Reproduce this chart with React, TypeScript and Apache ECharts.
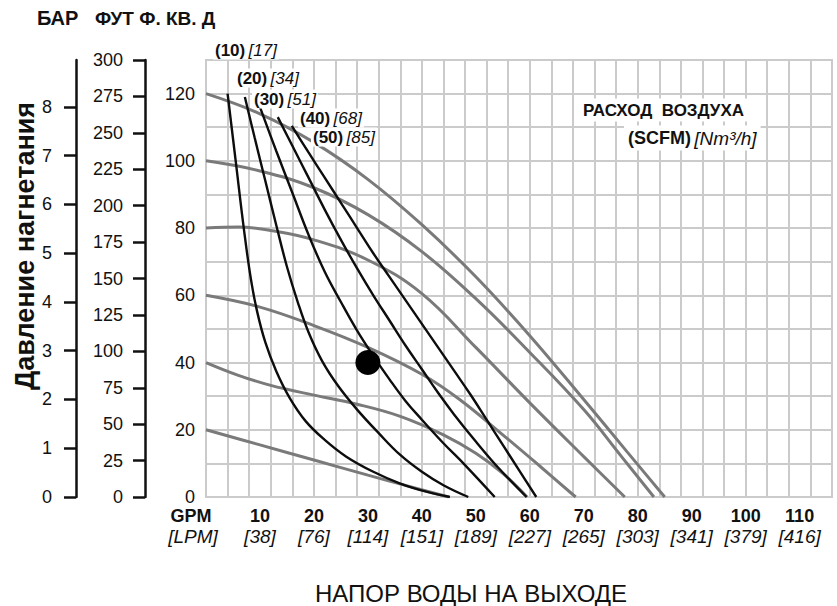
import React, { useEffect, useRef } from "react";
import * as echarts from "echarts";

// ---------- data ----------
const psiTicks = [0, 20, 40, 60, 80, 100, 120];
const barTicks = [0, 1, 2, 3, 4, 5, 6, 7, 8];
const feetTicks = [0, 25, 50, 75, 100, 125, 150, 175, 200, 225, 250, 275, 300];
const gpmTicks = [10, 20, 30, 40, 50, 60, 70, 80, 90, 100, 110];
const lpmTicks = [38, 76, 114, 151, 189, 227, 265, 303, 341, 379, 416];

// discharge head curves at constant air inlet pressure (psi) : [GPM, psi]
const pressure120 = [[0, 120], [10, 114], [20, 105.5], [30, 94.5], [40, 81], [50, 65.5], [60, 48], [70, 29], [78, 13.5], [85, 0]];
const pressure100 = [[0, 100], [10, 97], [20, 92], [30, 84], [40, 73], [50, 59], [60, 43], [70, 26], [77, 12], [83, 0]];
const pressure80 = [[0, 80], [6, 80.3], [12, 79.3], [20, 76.5], [30, 70.5], [40, 60.5], [50, 44.5], [60, 28], [70, 12], [77.6, 0]];
const pressure60 = [[0, 60], [10, 56.5], [20, 51], [30, 44.5], [40, 36.5], [47, 29], [55, 18.5], [62, 9], [68.5, 0]];
const pressure40 = [[0, 40], [6, 36.2], [12, 33.2], [20, 30.3], [28, 27.6], [36, 24], [44, 18.5], [50, 13], [55, 7], [59.5, 0]];
const pressure20 = [[0, 20], [10, 15.5], [20, 11], [30, 6.5], [38, 3], [45, 0]];

// air consumption curves (SCFM) : [GPM, psi]
const scfm10 = [[4, 120], [5.5, 100], [7, 80], [8.3, 65], [9.5, 55], [11, 46], [13, 37.5], [15.5, 29.5], [18.5, 22.5], [22, 17], [26, 12], [31, 7.5], [36, 4], [41, 1.5], [45.2, 0]];
const scfm20 = [[7.2, 119], [9, 107], [11, 94], [13, 81], [15, 68.5], [17, 58], [19, 49], [21.5, 40.5], [24.5, 33], [28, 26], [32, 19], [36, 12.5], [40, 7.5], [44, 3.5], [48.6, 0]];
const scfm30 = [[10, 116], [13, 103], [16, 90.5], [19, 78], [22, 67], [25, 58], [28, 49.5], [31, 42], [34, 35], [37, 28.5], [40, 23], [44, 16], [48, 9.5], [53.5, 0]];
const scfm40 = [[13.3, 113], [16, 104.5], [19, 95], [22, 85.5], [25, 76.5], [28, 68], [31, 60], [34, 52.5], [37, 45], [40, 38], [43, 31], [46, 24.5], [50, 16.5], [54, 9], [59.4, 0]];
const scfm50 = [[15.9, 110.4], [19, 102.5], [22, 95], [25, 87.5], [28, 80], [31, 72.5], [34, 65.5], [37, 58.5], [40, 51.5], [43, 44.5], [46, 37.5], [49, 30.5], [52, 23], [55, 15.5], [58, 8], [61.2, 0]];

const scfmLabels = ["10", "20", "30", "40", "50"];
const nm3hLabels = ["17", "34", "51", "68", "85"];
const operatingPoint = [[30, 40]];

const FONT = "'Liberation Sans', Arial, Helvetica, sans-serif";

export default function App() {
  const ref = useRef<HTMLDivElement>(null);

  useEffect(() => {
    const chart = echarts.init(ref.current!, null, { renderer: "svg" });
    const gray = "#7a7a7a";
    const black = "#0d0d0d";
    const gridColor = "#cbcbcb";
    const ink = "#111";

    const grayCurves = [pressure120, pressure100, pressure80, pressure60, pressure40, pressure20];
    const blackCurves = [scfm10, scfm20, scfm30, scfm40, scfm50];

    const series: any[] = [
      ...grayCurves.map((d, i) => ({
        type: "line",
        name: "p" + i,
        data: d,
        smooth: 0.4,
        symbol: "none",
        showSymbol: false,
        silent: true,
        z: 2,
        lineStyle: { color: gray, width: 3 },
      })),
      ...blackCurves.map((d, i) => ({
        type: "line",
        name: "scfm" + scfmLabels[i],
        data: d,
        smooth: 0.4,
        symbol: "none",
        showSymbol: false,
        silent: true,
        z: 3,
        lineStyle: { color: black, width: 2.4 },
      })),
      {
        type: "scatter",
        data: operatingPoint,
        symbolSize: 25,
        itemStyle: { color: "#000", opacity: 1 },
        z: 4,
        silent: true,
      },
    ];

    const curveLabelPos = [
      [213, 50],
      [235, 78],
      [252, 99],
      [298, 118],
      [311, 137],
    ];

    const richLabel = {
      b: { fontFamily: FONT, fontWeight: "bold", fontSize: 17, fill: ink, color: ink },
      i: { fontFamily: FONT, fontStyle: "italic", fontSize: 17, fill: ink, color: ink },
    };
    const richLegend = {
      b: { fontFamily: FONT, fontWeight: "bold", fontSize: 18, fill: ink, color: ink },
      i: { fontFamily: FONT, fontStyle: "italic", fontSize: 19, fill: ink, color: ink },
    };

    const graphic: any[] = [
      {
        type: "text",
        x: 37,
        y: 18,
        style: { text: "БАР", fontFamily: FONT, fontWeight: "bold", fontSize: 20, fill: ink, align: "left", verticalAlign: "middle" },
      },
      {
        type: "text",
        x: 95,
        y: 18,
        style: { text: "ФУТ Ф. КВ. Д", fontFamily: FONT, fontWeight: "bold", fontSize: 19, fill: ink, align: "left", verticalAlign: "middle" },
      },
      {
        type: "text",
        x: 25,
        y: 246,
        rotation: Math.PI / 2,
        style: { text: "Давление нагнетания", fontFamily: FONT, fontWeight: "bold", fontSize: 27, fill: ink, align: "center", verticalAlign: "middle" },
      },
      {
        type: "text",
        x: 471,
        y: 593,
        style: { text: "НАПОР ВОДЫ НА ВЫХОДЕ", fontFamily: FONT, fontSize: 24, fill: ink, align: "center", verticalAlign: "middle" },
      },
      {
        type: "text",
        x: 191,
        y: 516,
        style: { text: "GPM", fontFamily: FONT, fontWeight: "bold", fontSize: 18, fill: ink, align: "center", verticalAlign: "middle" },
      },
      {
        type: "text",
        x: 193,
        y: 536,
        style: { text: "[LPM]", fontFamily: FONT, fontStyle: "italic", fontSize: 19, fill: ink, align: "center", verticalAlign: "middle" },
      },
      {
        type: "text",
        x: 579,
        y: 110,
        z: 10,
        style: {
          text: "РАСХОД  ВОЗДУХА",
          fontFamily: FONT,
          fontWeight: "bold",
          fontSize: 17,
          fill: ink,
          align: "left",
          verticalAlign: "middle",
          backgroundColor: "#fff",
          padding: [3, 4],
        },
      },
      {
        type: "text",
        x: 624,
        y: 138,
        z: 10,
        style: {
          text: "{b|(SCFM)} {i|[Nm³/h]}",
          rich: richLegend,
          fill: ink,
          align: "left",
          verticalAlign: "middle",
          backgroundColor: "#fff",
          padding: [3, 4],
        },
      },
      ...scfmLabels.map((s, i) => ({
        type: "text",
        x: curveLabelPos[i][0],
        y: curveLabelPos[i][1],
        z: 10,
        style: {
          text: `{b|(${s})} {i|[${nm3hLabels[i]}]}`,
          rich: richLabel,
          fill: ink,
          align: "left",
          verticalAlign: "middle",
          backgroundColor: "#fff",
          padding: [1, 2],
        },
      })),
    ];

    chart.setOption({
      animation: false,
      backgroundColor: "#fff",
      textStyle: { fontFamily: FONT },
      grid: {
        left: 206,
        right: 5,
        top: 60,
        bottom: 109,
        show: true,
        borderColor: gridColor,
        borderWidth: 2,
        outerBoundsMode: "none",
      },
      xAxis: [
        {
          type: "value",
          min: 0,
          max: 116,
          interval: 4,
          axisLine: { show: false, onZero: false },
          axisTick: { show: false },
          axisLabel: { show: false },
          splitLine: { show: true, lineStyle: { color: gridColor, width: 2 } },
        },
        {
          type: "value",
          position: "bottom",
          min: 0,
          max: 116,
          interval: 10,
          axisLine: { show: false, onZero: false },
          axisTick: { show: false },
          splitLine: { show: false },
          axisLabel: {
            show: true,
            customValues: gpmTicks,
            margin: 9,
            formatter: (v: number) => {
              const i = gpmTicks.indexOf(v);
              return i < 0 ? "" : `{a|${v}}\n{b|[${lpmTicks[i]}]}`;
            },
            rich: {
              a: { fontFamily: FONT, fontWeight: "bold", fontSize: 18, color: ink, lineHeight: 20 },
              b: { fontFamily: FONT, fontStyle: "italic", fontSize: 19, color: ink, lineHeight: 20 },
            },
          },
        },
      ],
      yAxis: [
        {
          type: "value",
          min: 0,
          max: 130,
          interval: 10,
          position: "left",
          axisLine: { show: false, onZero: false },
          axisTick: { show: false },
          splitLine: { show: true, lineStyle: { color: gridColor, width: 2 } },
          axisLabel: {
            margin: 11,
            fontSize: 18,
            color: ink,
            customValues: psiTicks,
            formatter: (v: number) => (psiTicks.indexOf(v) >= 0 ? String(v) : ""),
          },
        },
        {
          type: "value",
          min: 0,
          max: 300,
          interval: 25,
          position: "left",
          offset: 61,
          axisLine: { show: true, onZero: false, lineStyle: { color: ink, width: 2.5 } },
          axisTick: { show: true, length: 12, customValues: feetTicks, lineStyle: { color: ink, width: 2.5 } },
          splitLine: { show: false },
          axisLabel: {
            margin: 22,
            fontSize: 18,
            color: ink,
            customValues: feetTicks,
          },
        },
        {
          type: "value",
          min: 0,
          max: 130 / 14.5038,
          interval: 1,
          position: "left",
          offset: 130,
          axisLine: { show: true, onZero: false, lineStyle: { color: ink, width: 2.5 } },
          axisTick: { show: true, length: 12, customValues: barTicks, lineStyle: { color: ink, width: 2.5 } },
          splitLine: { show: false },
          axisLabel: {
            margin: 24,
            fontSize: 18,
            color: ink,
            customValues: barTicks,
            formatter: (v: number) => (barTicks.indexOf(v) >= 0 ? String(v) : ""),
          },
        },
      ],
      series,
      graphic,
    });

    return () => chart.dispose();
  }, []);

  return (
    <div
      ref={ref}
      style={{ position: "fixed", left: 0, top: 0, width: 837, height: 606, background: "#fff" }}
    />
  );
}
